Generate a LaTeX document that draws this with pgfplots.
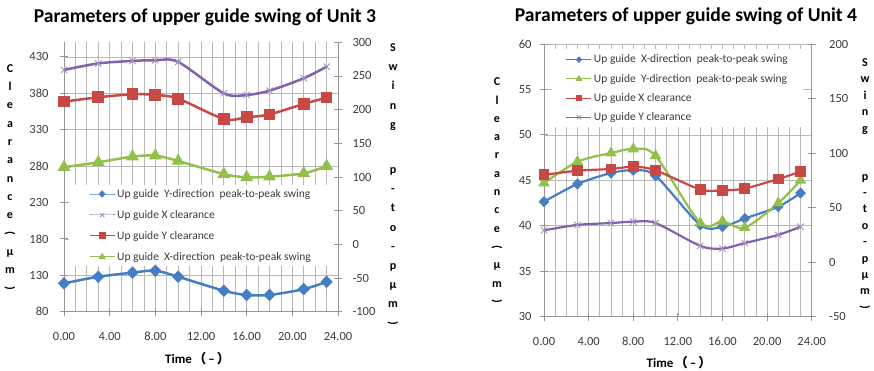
\documentclass[border=0pt]{standalone}
\usepackage{graphicx}
\usepackage{pgfplots}
\pgfplotsset{compat=1.18}
\usepackage{fontspec}
\setmainfont{Carlito}
\newfontfamily\cjk{Noto Sans CJK SC}

\definecolor{serBlue}{RGB}{69,126,196}
\definecolor{serRed}{RGB}{200,72,70}
\definecolor{serGreen}{RGB}{146,192,74}
\definecolor{serPurple}{RGB}{128,98,170}
\definecolor{gridGray}{RGB}{185,185,185}
\definecolor{axisGray}{RGB}{150,150,150}
\definecolor{tickText}{RGB}{60,60,60}

\pgfplotsset{
  chartbase/.style={
    scale only axis,
    xmin=0, xmax=24,
    /pgf/number format/assume math mode=true,
    tick label style={font=\fontsize{12.5}{14}\selectfont, text=tickText},
    axis line style={axisGray, line width=0.8pt},
    every tick/.style={axisGray, line width=0.8pt},
    tick align=center,
    major tick length=8pt,
    minor tick length=0pt,
  },
  mainaxis/.style={
    chartbase,
    axis x line*=bottom, axis y line*=left,
    xtick={0,4,...,24}, minor x tick num=3,
    xticklabel style={yshift=-13pt, /pgf/number format/.cd, fixed, fixed zerofill, precision=2},
    grid=both,
    major grid style={gridGray, line width=0.7pt},
    minor grid style={gridGray, line width=0.7pt},
    legend cell align=left,
    legend image code/.code={%
      \draw[mark repeat=2, mark phase=2, line width=1pt,
            every mark/.append style={scale=0.65}]
        plot coordinates {(0pt,0pt) (12.5pt,0pt) (25pt,0pt)};},
  },
  sideaxis/.style={
    chartbase,
    axis y line*=right, axis x line=none,
  },
  sBlue/.style={serBlue, smooth, line width=2.5pt, mark=diamond*, mark size=4.5pt, mark options={solid, xscale=1.3}},
  sRed/.style={serRed, smooth, line width=2.5pt, mark=square*, mark size=4.6pt, mark options={solid}},
  sGreen/.style={serGreen, smooth, line width=2.5pt, mark=triangle*, mark size=5pt, mark options={solid}},
  sPurple/.style={serPurple, smooth, line width=2.5pt, mark=x, mark size=4.5pt, mark options={solid, line width=0.9pt, serPurple!70}},
}

% parentheses turned for vertically stacked axis titles
\newcommand{\vopen}{\rotatebox[origin=c]{-90}{(}}
\newcommand{\vclose}{\rotatebox[origin=c]{-90}{)}}
\newcommand{\timelabel}{Time\hspace{1.5pt}{\cjk （}\hspace{2pt}–\hspace{2pt}{\cjk ）}}

\begin{document}
\begin{tikzpicture}[x=1pt, y=1pt]
\useasboundingbox (0,0) rectangle (874,371);

% ---------------- Unit 3 ----------------
\node[anchor=base, font=\bfseries\fontsize{19.6}{22}\selectfont] at (205,348) {Parameters of upper guide swing of Unit 3};

\begin{axis}[mainaxis,
  at={(64pt,59.3pt)}, anchor=south west,
  width=274pt, height=269.4pt,
  ymin=80, ymax=450, ytick={80,130,...,430},
  yticklabel style={xshift=-8pt},
  legend style={at={(0.5,0.32)}, anchor=center, fill=none, draw=none,
    font=\fontsize{11.5}{13}\selectfont, text=tickText, row sep=7.5pt},
]
% white panel behind the legend
\fill[white] ([xshift=4.5pt]axis description cs:0,0.17) rectangle (axis description cs:1,0.47);
\addplot[sBlue] coordinates {(0,119) (3,128) (6,133.6) (8,136.3) (10,128) (14,108.8) (16,103) (18,103) (21,111) (23,121)};
\addlegendentry{Up guide\ \ Y-direction\ \ peak-to-peak swing}
\addplot[sPurple] coordinates {(0,412) (3,421) (6,424.4) (8,425.3) (10,423) (14,380) (16,377.7) (18,383.6) (21,400.6) (23,416.5)};
\addlegendentry{Up guide X clearance}
\addplot[sRed] coordinates {(0,368.5) (3,374.5) (6,378.6) (8,377.7) (10,372.6) (14,344.7) (16,347) (18,351) (21,365.3) (23,374)};
\addlegendentry{Up guide Y clearance}
\addplot[sGreen] coordinates {(0,278.4) (3,285.2) (6,293) (8,294.3) (10,287) (14,269) (16,264.6) (18,265.5) (21,270) (23,280)};
\addlegendentry{Up guide\ \ X-direction\ \ peak-to-peak swing}
\end{axis}

\begin{axis}[sideaxis,
  at={(64pt,59.3pt)}, anchor=south west,
  width=274pt, height=269.4pt,
  ymin=-100, ymax=300, ytick={-100,-50,...,300},
  yticklabel style={xshift=7pt},
]
\addplot[draw=none] coordinates {(0,0)};
\end{axis}

\node[anchor=north, align=center, inner sep=0pt, font=\bfseries\fontsize{12}{18.3}\selectfont]
  at (10,306.7) {C\\l\\e\\a\\r\\a\\n\\c\\e\\\vopen\\μ\\m\\\vclose};
\node[anchor=north, align=center, inner sep=0pt, font=\bfseries\fontsize{12}{19.2}\selectfont]
  at (393,327.5) {S\\w\\i\\n\\g\\[26pt]p\\-\\t\\o\\-\\p\\μ\\m\\\vclose};
\node[anchor=base, font=\bfseries\fontsize{13}{15}\selectfont] at (197.5,7.7) {\timelabel};

% ---------------- Unit 4 ----------------
\node[anchor=base, font=\bfseries\fontsize{19.6}{22}\selectfont] at (686,349.3) {Parameters of upper guide swing of Unit 4};

\begin{axis}[mainaxis,
  at={(544pt,54.3pt)}, anchor=south west,
  width=267.7pt, height=272.7pt,
  ymin=30, ymax=60, ytick={30,35,...,60},
  yticklabel style={xshift=-5pt},
  legend style={at={(0.5,0.837)}, anchor=center, fill=none, draw=none,
    font=\fontsize{11.5}{13}\selectfont, text=tickText, row sep=5.7pt},
]
% white panel behind the legend
\fill[white] (axis description cs:0.03,0.696) rectangle (axis description cs:0.9675,0.982);
\addplot[sBlue, line width=2.2pt, mark size=4pt] coordinates {(0,42.65) (3,44.6) (6,45.8) (8,46.1) (10,45.5) (14,40.1) (16,39.9) (18,40.8) (21,42.1) (23,43.6)};
\addlegendentry{Up guide\ \ X-direction\ \ peak-to-peak swing}
\addplot[sGreen, line width=2.2pt, mark size=4.5pt] coordinates {(0,44.7) (3,47.05) (6,48) (8,48.45) (10,47.7) (14,40.3) (16,40.5) (18,39.8) (21,42.5) (23,45.0)};
\addlegendentry{Up guide\ \ Y-direction\ \ peak-to-peak swing}
\addplot[sRed, line width=2.2pt, mark size=4.3pt] coordinates {(0,45.6) (3,46.06) (6,46.25) (8,46.5) (10,46.1) (14,44.0) (16,43.9) (18,44.1) (21,45.15) (23,45.95)};
\addlegendentry{Up guide X clearance}
\addplot[sPurple, line width=2.2pt] coordinates {(0,39.5) (3,40.1) (6,40.3) (8,40.45) (10,40.3) (14,37.8) (16,37.5) (18,38.1) (21,39.0) (23,39.9)};
\addlegendentry{Up guide Y clearance}
\end{axis}

\begin{axis}[sideaxis,
  at={(544pt,54.3pt)}, anchor=south west,
  width=267.7pt, height=272.7pt,
  ymin=-50, ymax=200, ytick={-50,0,...,200},
  yticklabel style={xshift=10pt},
]
\addplot[draw=none] coordinates {(0,0)};
\end{axis}

\node[anchor=north, align=center, inner sep=0pt, font=\bfseries\fontsize{12}{18.3}\selectfont]
  at (497,293.3) {C\\l\\e\\a\\r\\a\\n\\c\\e\\\vopen\\μ\\m\\\vclose};
\node[anchor=north, align=center, inner sep=0pt, font=\bfseries\fontsize{12}{16.4}\selectfont]
  at (865,312.5) {S\\w\\i\\n\\g\\[31.5pt]p\\-\\t\\o\\-\\p\\μ\\m\\\vclose};
\node[anchor=base, font=\bfseries\fontsize{13}{15}\selectfont] at (679,3) {\timelabel};
\end{tikzpicture}
\end{document}
